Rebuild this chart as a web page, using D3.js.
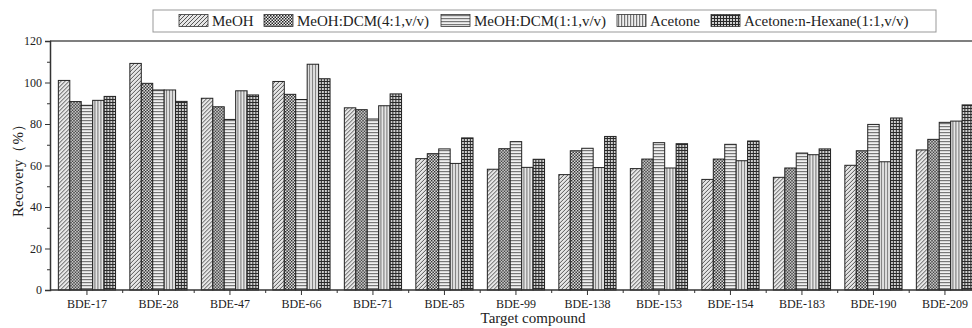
<!DOCTYPE html>
<html>
<head>
<meta charset="utf-8">
<script src="https://cdn.jsdelivr.net/npm/d3@7/dist/d3.min.js"></script>
<style>
  body { margin: 0; background: #fff; }
  svg { display: block; }
  svg text { font-family: "Liberation Serif", "Times New Roman", serif !important; }
</style>
</head>
<body>
<svg id="chart" width="972" height="328"></svg>
<script>
// data
const compounds = ['BDE-17', 'BDE-28', 'BDE-47', 'BDE-66', 'BDE-71', 'BDE-85', 'BDE-99',
  'BDE-138', 'BDE-153', 'BDE-154', 'BDE-183', 'BDE-190', 'BDE-209']
const solvents = ['MeOH', 'MeOH:DCM(4:1,v/v)', 'MeOH:DCM(1:1,v/v)', 'Acetone', 'Acetone:n-Hexane(1:1,v/v)']

const meoh    = [101, 109.2, 92.4, 100.5, 87.8, 63.3, 58.2, 55.6, 58.5, 53.3, 54.3, 60.1, 67.5]
const dcm41   = [90.8, 99.6, 88.3, 94.3, 86.9, 65.7, 68.1, 67.1, 63.1, 63.1, 58.8, 67.1, 72.6]
const dcm11   = [89, 96.4, 82.2, 91.8, 82.4, 68, 71.5, 68.3, 71, 70.2, 66, 79.8, 80.8]
const acetone = [91.4, 96.4, 96, 108.8, 88.8, 61, 59.1, 59, 58.8, 62.3, 65.2, 61.8, 81.4]
const acHex   = [93.3, 90.9, 94, 101.8, 94.5, 73.3, 63, 74, 70.5, 71.8, 68, 82.9, 89.2]
const series = [meoh, dcm41, dcm11, acetone, acHex]

const yTicks = [0, 20, 40, 60, 80, 100, 120]

const svg = d3.select('#chart')
const defs = svg.append('defs')

// fill patterns, one per solvent
const pat = (id, size, bg, draw) => {
  const p = defs.append('pattern').attr('id', id)
    .attr('patternUnits', 'userSpaceOnUse')
    .attr('width', size).attr('height', size)
  p.append('rect').attr('width', size).attr('height', size).attr('fill', bg)
  draw(p)
}
pat('p0', 4, '#e6e6e6', p => {
  p.append('path').attr('d', 'M-1,1 L1,-1 M0,4 L4,0 M3,5 L5,3')
    .attr('stroke', '#555').attr('stroke-width', 1)
})
pat('p1', 3, '#f2f2f2', p => {
  p.append('rect').attr('x', 0).attr('y', 0).attr('width', 1.5).attr('height', 1.5).attr('fill', '#222')
  p.append('rect').attr('x', 1.5).attr('y', 1.5).attr('width', 1.5).attr('height', 1.5).attr('fill', '#222')
})
pat('p2', 3, '#f0f0f0', p => {
  p.append('rect').attr('x', 0).attr('y', 0).attr('width', 3).attr('height', 1.2).attr('fill', '#777')
})
pat('p3', 3, '#f0f0f0', p => {
  p.append('rect').attr('x', 0).attr('y', 0).attr('width', 1.2).attr('height', 3).attr('fill', '#777')
})
pat('p4', 3, '#d0d0d0', p => {
  p.append('rect').attr('x', 0).attr('y', 0).attr('width', 3).attr('height', 1).attr('fill', '#2a2a2a')
  p.append('rect').attr('x', 0).attr('y', 0).attr('width', 1).attr('height', 3).attr('fill', '#2a2a2a')
})

const x0 = d3.scaleBand().domain(compounds).range([51.2, 51.2 + 13 * 71.5])
  .paddingInner(0.2).paddingOuter(0.1)
const x1 = d3.scaleBand().domain(d3.range(5)).range([0, x0.bandwidth()])
const y = d3.scaleLinear().domain([0, 120]).range([290, 41])

// frame top line
svg.append('line').attr('x1', 50).attr('x2', 972).attr('y1', y(120)).attr('y2', y(120))
  .attr('stroke', '#555').attr('stroke-width', 1.5)

// bars
compounds.forEach((c, i) => {
  const g = svg.append('g').attr('transform', `translate(${x0(c)},0)`)
  g.selectAll('rect').data(series.map(s => s[i])).join('rect')
    .attr('x', (d, k) => x1(k))
    .attr('width', x1.bandwidth())
    .attr('y', d => y(d))
    .attr('height', d => y(0) - y(d))
    .attr('fill', (d, k) => `url(#p${k})`)
    .attr('stroke', '#222').attr('stroke-width', 1)
})

// y axis
const yAxis = svg.append('g').attr('transform', 'translate(50,0)')
  .call(d3.axisLeft(y).tickValues(yTicks).tickSize(5).tickPadding(3))
yAxis.select('.domain').attr('stroke', '#333').attr('stroke-width', 1.5)
yAxis.selectAll('.tick text').attr('font-size', 12).attr('fill', '#222')
yAxis.selectAll('.tick line').attr('stroke', '#333')
svg.append('g').attr('transform', 'translate(50,0)')
  .call(d3.axisLeft(y).tickValues(d3.range(10, 120, 20)).tickSize(3).tickFormat(''))
  .call(g => g.select('.domain').remove())
  .selectAll('line').attr('stroke', '#333')

// x axis
const xAxis = svg.append('g').attr('transform', `translate(0,${y(0)})`)
  .call(d3.axisBottom(x0).tickSize(5).tickPadding(4))
xAxis.select('.domain').attr('d', `M50,0H972`).attr('stroke', '#333').attr('stroke-width', 1.5)
xAxis.selectAll('.tick text').attr('font-size', 12).attr('fill', '#222')
xAxis.selectAll('.tick line').attr('stroke', '#333')
svg.append('g').attr('transform', `translate(0,${y(0)})`)
  .selectAll('line').data(compounds.slice(1)).join('line')
  .attr('x1', c => x0(c) - x0.step() * 0.1).attr('x2', c => x0(c) - x0.step() * 0.1)
  .attr('y1', 0).attr('y2', 3).attr('stroke', '#333')

// axis titles
svg.append('text').attr('transform', 'translate(23,167) rotate(-90)')
  .attr('text-anchor', 'middle').attr('font-size', 15).attr('fill', '#222')
  .text('Recovery（%）')
svg.append('text').attr('x', 533).attr('y', 323)
  .attr('text-anchor', 'middle').attr('font-size', 15).attr('fill', '#222')
  .text('Target compound')

// legend
const legend = svg.append('g')
legend.append('rect').attr('x', 153).attr('y', 10).attr('width', 783).attr('height', 22)
  .attr('fill', '#fff').attr('stroke', '#999').attr('stroke-width', 1)
const legendX = [179, 264, 441, 617, 711]
solvents.forEach((s, k) => {
  legend.append('rect').attr('x', legendX[k]).attr('y', 14.5).attr('width', 29).attr('height', 12)
    .attr('fill', `url(#p${k})`).attr('stroke', '#333').attr('stroke-width', 0.8)
  legend.append('text').attr('x', legendX[k] + 33).attr('y', 26)
    .attr('font-size', 15).attr('fill', '#222').text(s)
})
</script>
</body>
</html>
